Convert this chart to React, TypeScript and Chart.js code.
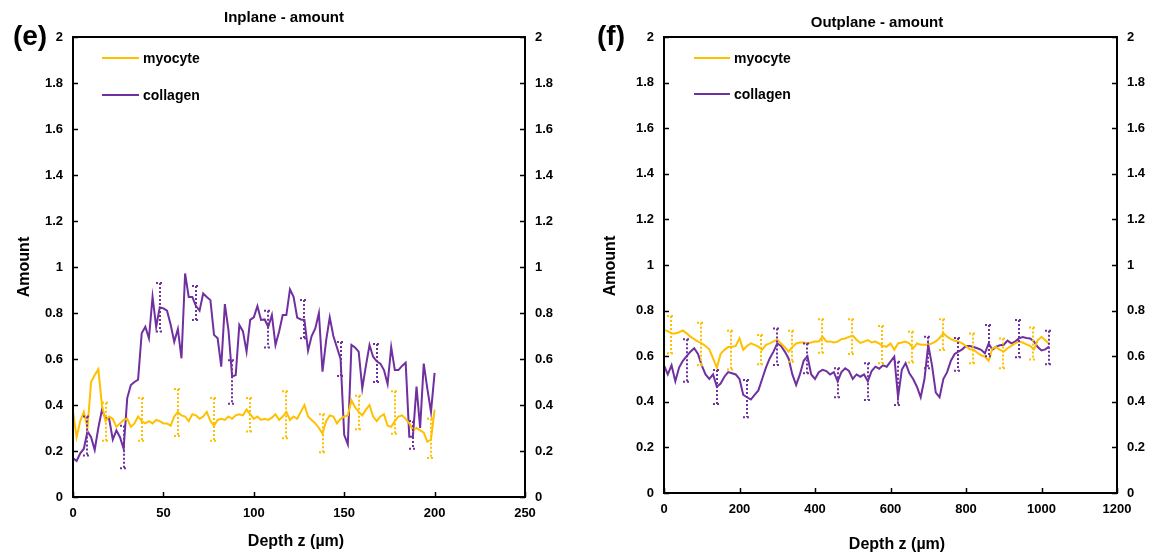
import React, { useEffect, useRef } from "react";
import { Chart, registerables } from "chart.js";

Chart.register(...registerables);

const MYO_COLOR = "#FFC000";
const COL_COLOR = "#7030A0";
const FONT = "'Liberation Sans', Arial, sans-serif";

// ---------- Panel (e): Inplane - amount ----------
const inDepth = [
  0, 2, 4, 6, 8, 10, 12, 14, 16, 18, 20, 22, 24, 26, 28, 30, 32, 34, 36, 38,
  40, 42, 44, 46, 48, 50, 52, 54, 56, 58, 60, 62, 64, 66, 68, 70, 72, 74, 76, 78,
  80, 82, 84, 86, 88, 90, 92, 94, 96, 98, 100, 102, 104, 106, 108, 110, 112, 114, 116, 118,
  120, 122, 124, 126, 128, 130, 132, 134, 136, 138, 140, 142, 144, 146, 148, 150, 152, 154, 156, 158,
  160, 162, 164, 166, 168, 170, 172, 174, 176, 178, 180, 182, 184, 186, 188, 190, 192, 194, 196, 198, 200,
];
const inMyocyte = [
  0.37, 0.26, 0.33, 0.37, 0.30, 0.50, 0.53, 0.555, 0.40, 0.33,
  0.35, 0.34, 0.305, 0.32, 0.335, 0.34, 0.305, 0.32, 0.35, 0.33,
  0.32, 0.33, 0.32, 0.335, 0.33, 0.32, 0.32, 0.31, 0.35, 0.37,
  0.355, 0.35, 0.33, 0.36, 0.355, 0.34, 0.35, 0.37, 0.33, 0.31,
  0.335, 0.34, 0.335, 0.35, 0.34, 0.355, 0.36, 0.355, 0.38, 0.36,
  0.34, 0.35, 0.335, 0.34, 0.335, 0.345, 0.36, 0.335, 0.35, 0.37,
  0.335, 0.35, 0.34, 0.37, 0.40, 0.35, 0.335, 0.32, 0.30, 0.275,
  0.33, 0.355, 0.35, 0.32, 0.34, 0.35, 0.355, 0.42, 0.39, 0.37,
  0.355, 0.38, 0.40, 0.35, 0.33, 0.35, 0.36, 0.31, 0.305, 0.33,
  0.35, 0.355, 0.34, 0.32, 0.29, 0.30, 0.29, 0.28, 0.24, 0.25,
  0.38,
];
const inCollagen = [
  0.168, 0.157, 0.19, 0.21, 0.285, 0.26, 0.205, 0.30, 0.378, 0.344,
  0.34, 0.25, 0.29, 0.26, 0.21, 0.43, 0.487, 0.50, 0.51, 0.712,
  0.74, 0.69, 0.87, 0.74, 0.825, 0.82, 0.81, 0.75, 0.675, 0.73,
  0.603, 0.972, 0.87, 0.87, 0.83, 0.81, 0.885, 0.87, 0.856, 0.705,
  0.69, 0.567, 0.839, 0.725, 0.524, 0.53, 0.748, 0.72, 0.632, 0.77,
  0.781, 0.83, 0.77, 0.772, 0.74, 0.791, 0.661, 0.72, 0.791, 0.791,
  0.903, 0.87, 0.78, 0.772, 0.77, 0.636, 0.70, 0.733, 0.80, 0.545,
  0.68, 0.781, 0.70, 0.65, 0.60, 0.27, 0.229, 0.661, 0.65, 0.632,
  0.473, 0.57, 0.661, 0.61, 0.59, 0.58, 0.552, 0.491, 0.652, 0.552,
  0.552, 0.57, 0.584, 0.262, 0.262, 0.48, 0.30, 0.58, 0.47, 0.37,
  0.54,
];
const inMyoErrX = [18, 38, 58, 78, 98, 118, 138, 158, 178, 198];
const inMyoErrHigh = [0.41, 0.43, 0.47, 0.43, 0.43, 0.46, 0.36, 0.44, 0.46, 0.34];
const inMyoErrLow = [0.245, 0.245, 0.265, 0.245, 0.285, 0.255, 0.195, 0.295, 0.275, 0.17];
const inColErrX = [8, 28, 48, 68, 88, 108, 128, 148, 168, 188];
const inColErrHigh = [0.35, 0.31, 0.93, 0.917, 0.595, 0.81, 0.857, 0.674, 0.665, 0.33];
const inColErrLow = [0.18, 0.125, 0.72, 0.77, 0.405, 0.65, 0.69, 0.526, 0.5, 0.21];

// ---------- Panel (f): Outplane - amount ----------
const outDepth = [
  0, 10, 20, 30, 40, 50, 60, 70, 80, 90, 100, 110, 120, 130, 140, 150, 160, 170, 180, 190,
  200, 210, 220, 230, 240, 250, 260, 270, 280, 290, 300, 310, 320, 330, 340, 350, 360, 370, 380, 390,
  400, 410, 420, 430, 440, 450, 460, 470, 480, 490, 500, 510, 520, 530, 540, 550, 560, 570, 580, 590,
  600, 610, 620, 630, 640, 650, 660, 670, 680, 690, 700, 710, 720, 730, 740, 750, 760, 770, 780, 790,
  800, 810, 820, 830, 840, 850, 860, 870, 880, 890, 900, 910, 920, 930, 940, 950, 960, 970, 980, 990,
  1000, 1010, 1020,
];
const outMyocyte = [
  0.715, 0.71, 0.70, 0.70, 0.705, 0.713, 0.70, 0.686, 0.675, 0.664,
  0.656, 0.645, 0.63, 0.59, 0.55, 0.61, 0.628, 0.64, 0.64, 0.645,
  0.678, 0.628, 0.645, 0.656, 0.65, 0.642, 0.628, 0.65, 0.656, 0.665,
  0.671, 0.656, 0.64, 0.62, 0.64, 0.656, 0.66, 0.66, 0.656, 0.66,
  0.664, 0.664, 0.686, 0.665, 0.665, 0.66, 0.664, 0.675, 0.678, 0.685,
  0.69, 0.672, 0.658, 0.664, 0.671, 0.66, 0.664, 0.655, 0.645, 0.642,
  0.656, 0.628, 0.656, 0.66, 0.664, 0.656, 0.634, 0.656, 0.65, 0.65,
  0.65, 0.656, 0.665, 0.68, 0.70, 0.686, 0.675, 0.668, 0.664, 0.656,
  0.645, 0.63, 0.628, 0.615, 0.604, 0.598, 0.58, 0.635, 0.64, 0.628,
  0.62, 0.635, 0.645, 0.656, 0.664, 0.66, 0.652, 0.645, 0.63, 0.67,
  0.685, 0.67, 0.655,
];
const outCollagen = [
  0.56, 0.52, 0.56, 0.49, 0.55, 0.58, 0.60, 0.62, 0.635, 0.61,
  0.56, 0.52, 0.50, 0.52, 0.466, 0.48, 0.51, 0.53, 0.525, 0.52,
  0.50, 0.43, 0.42, 0.41, 0.43, 0.45, 0.50, 0.55, 0.59, 0.62,
  0.656, 0.645, 0.62, 0.59, 0.52, 0.474, 0.52, 0.58, 0.60, 0.52,
  0.50, 0.53, 0.54, 0.535, 0.52, 0.53, 0.49, 0.53, 0.547, 0.535,
  0.50, 0.52, 0.51, 0.52, 0.49, 0.535, 0.554, 0.545, 0.56, 0.554,
  0.576, 0.598, 0.42, 0.54, 0.57, 0.525, 0.50, 0.466, 0.42, 0.50,
  0.65, 0.56, 0.44, 0.42, 0.50, 0.53, 0.58, 0.61, 0.62, 0.63,
  0.645, 0.645, 0.64, 0.635, 0.628, 0.613, 0.656, 0.628, 0.642, 0.648,
  0.65, 0.668, 0.656, 0.664, 0.678, 0.684, 0.68, 0.678, 0.665, 0.64,
  0.625, 0.63, 0.642,
];
const outMyoErrX = [18, 98, 178, 258, 338, 418, 498, 578, 658, 738, 818, 898, 978];
const outMyoErrHigh = [0.776, 0.747, 0.712, 0.693, 0.712, 0.762, 0.762, 0.732, 0.707, 0.762, 0.70, 0.678, 0.726];
const outMyoErrLow = [0.613, 0.56, 0.542, 0.565, 0.576, 0.615, 0.61, 0.569, 0.572, 0.627, 0.569, 0.547, 0.586];
const outColErrX = [60, 140, 220, 300, 380, 460, 540, 620, 700, 780, 860, 940, 1020];
const outColErrHigh = [0.674, 0.539, 0.496, 0.722, 0.656, 0.547, 0.569, 0.576, 0.685, 0.68, 0.737, 0.759, 0.712];
const outColErrLow = [0.488, 0.39, 0.332, 0.561, 0.525, 0.42, 0.408, 0.386, 0.547, 0.536, 0.6, 0.595, 0.565];

const seriesNames = ["myocyte", "collagen"];

type ErrSet = { xs: number[]; lows: number[]; highs: number[]; color: string };
type PanelCfg = {
  left: number;
  depth: number[];
  myo: number[];
  col: number[];
  errs: ErrSet[];
  xMax: number;
  xStep: number;
  area: { left: number; right: number; top: number; bottom: number };
  title: string;
  titleX: number;
  titleY: number;
  letter: string;
  letterX: number;
  letterY: number;
  xTitleX: number;
  xTitleY: number;
  yTitleX: number;
  yTitleY: number;
  legLineX1: number;
  legLineX2: number;
  legTextX: number;
  legY: number[];
};

const W = 576;
const H = 554;

const fmt = (v: number | string) => String(+Number(v).toFixed(1));

const decorPlugin = {
  id: "decor",
  afterDatasetsDraw(chart: any, _args: any, opts: any) {
    const cfg: PanelCfg = opts.cfg;
    const ctx = chart.ctx as CanvasRenderingContext2D;
    const xs = chart.scales.x;
    const ys = chart.scales.y;
    // error bars
    ctx.save();
    ctx.lineWidth = 2;
    ctx.setLineDash([2, 2]);
    for (const e of cfg.errs) {
      ctx.strokeStyle = e.color;
      for (let i = 0; i < e.xs.length; i++) {
        const px = Math.round(xs.getPixelForValue(e.xs[i]));
        const pHi = ys.getPixelForValue(e.highs[i]);
        const pLo = ys.getPixelForValue(e.lows[i]);
        ctx.beginPath();
        ctx.moveTo(px, pHi);
        ctx.lineTo(px, pLo);
        ctx.moveTo(px - 4, pHi);
        ctx.lineTo(px + 4, pHi);
        ctx.moveTo(px - 4, pLo);
        ctx.lineTo(px + 4, pLo);
        ctx.stroke();
      }
    }
    ctx.restore();
  },
  afterDraw(chart: any, _args: any, opts: any) {
    const cfg: PanelCfg = opts.cfg;
    const ctx = chart.ctx as CanvasRenderingContext2D;
    const a = chart.chartArea;
    const xs = chart.scales.x;
    const ys = chart.scales.y;
    ctx.save();
    // frame
    ctx.strokeStyle = "#000";
    ctx.lineWidth = 2;
    ctx.strokeRect(a.left, a.top, a.right - a.left, a.bottom - a.top);
    // inside tick marks
    ctx.lineWidth = 1.5;
    ctx.beginPath();
    for (const t of xs.ticks) {
      const px = Math.round(xs.getPixelForValue(t.value)) + 0.5;
      ctx.moveTo(px, a.bottom);
      ctx.lineTo(px, a.bottom - 5);
    }
    for (const t of ys.ticks) {
      const py = Math.round(ys.getPixelForValue(t.value)) + 0.5;
      ctx.moveTo(a.left, py);
      ctx.lineTo(a.left + 5, py);
      ctx.moveTo(a.right, py);
      ctx.lineTo(a.right - 5, py);
    }
    ctx.stroke();
    // texts
    ctx.fillStyle = "#000";
    ctx.textAlign = "center";
    ctx.textBaseline = "middle";
    ctx.font = `bold 15px ${FONT}`;
    ctx.fillText(cfg.title, cfg.titleX, cfg.titleY);
    ctx.font = `bold 28px ${FONT}`;
    ctx.fillText(cfg.letter, cfg.letterX, cfg.letterY);
    ctx.font = `bold 16px ${FONT}`;
    ctx.fillText("Depth z (µm)", cfg.xTitleX, cfg.xTitleY);
    ctx.save();
    ctx.translate(cfg.yTitleX, cfg.yTitleY);
    ctx.rotate(-Math.PI / 2);
    ctx.fillText("Amount", 0, 0);
    ctx.restore();
    // legend
    const colors = [MYO_COLOR, COL_COLOR];
    ctx.font = `bold 14px ${FONT}`;
    ctx.textAlign = "left";
    for (let i = 0; i < 2; i++) {
      ctx.strokeStyle = colors[i];
      ctx.lineWidth = 2;
      ctx.beginPath();
      ctx.moveTo(cfg.legLineX1, cfg.legY[i]);
      ctx.lineTo(cfg.legLineX2, cfg.legY[i]);
      ctx.stroke();
      ctx.fillText(seriesNames[i], cfg.legTextX, cfg.legY[i] + 1);
    }
    ctx.restore();
  },
};

function buildConfig(cfg: PanelCfg): any {
  const toPts = (ys: number[]) => cfg.depth.map((d, i) => ({ x: d, y: ys[i] }));
  const tickFont = { family: FONT, size: 13, weight: "bold" as const };
  const yTicks = { stepSize: 0.2, padding: 10, font: tickFont, color: "#000", callback: (v: any) => fmt(v) };
  return {
    type: "line",
    data: {
      datasets: [
        { label: seriesNames[0], data: toPts(cfg.myo), borderColor: MYO_COLOR, borderWidth: 2, pointRadius: 0, tension: 0, fill: false },
        { label: seriesNames[1], data: toPts(cfg.col), borderColor: COL_COLOR, borderWidth: 2, pointRadius: 0, tension: 0, fill: false },
      ],
    },
    options: {
      responsive: false,
      animation: false,
      devicePixelRatio: 1,
      layout: { padding: { top: cfg.area.top, left: 0, right: 0, bottom: 0 } },
      plugins: { legend: { display: false }, tooltip: { enabled: false }, title: { display: false }, decor: { cfg } },
      scales: {
        x: {
          type: "linear",
          position: "bottom",
          min: 0,
          max: cfg.xMax,
          grid: { display: false, drawTicks: false },
          border: { display: false },
          ticks: {
            stepSize: cfg.xStep,
            padding: 9,
            font: tickFont,
            color: "#000",
            maxRotation: 0,
            autoSkip: false,
            callback: (v: any) => String(Math.round(Number(v))),
          },
          afterFit: (s: any) => {
            s.height = H - cfg.area.bottom;
          },
        },
        y: {
          type: "linear",
          position: "left",
          min: 0,
          max: 2,
          grid: { display: false, drawTicks: false },
          border: { display: false },
          ticks: yTicks,
          afterFit: (s: any) => {
            s.width = cfg.area.left;
          },
        },
        y2: {
          type: "linear",
          position: "right",
          min: 0,
          max: 2,
          grid: { display: false, drawTicks: false },
          border: { display: false },
          ticks: { ...yTicks },
          afterFit: (s: any) => {
            s.width = W - cfg.area.right;
          },
        },
      },
    },
    plugins: [decorPlugin],
  };
}

const panels: PanelCfg[] = [
  {
    left: 0,
    depth: inDepth,
    myo: inMyocyte,
    col: inCollagen,
    errs: [
      { xs: inMyoErrX, lows: inMyoErrLow, highs: inMyoErrHigh, color: MYO_COLOR },
      { xs: inColErrX, lows: inColErrLow, highs: inColErrHigh, color: COL_COLOR },
    ],
    xMax: 250,
    xStep: 50,
    area: { left: 73, right: 525, top: 37, bottom: 497 },
    title: "Inplane - amount",
    titleX: 284,
    titleY: 18,
    letter: "(e)",
    letterX: 30,
    letterY: 37,
    xTitleX: 296,
    xTitleY: 542,
    yTitleX: 25,
    yTitleY: 267,
    legLineX1: 102,
    legLineX2: 139,
    legTextX: 143,
    legY: [58, 95],
  },
  {
    left: 576,
    depth: outDepth,
    myo: outMyocyte,
    col: outCollagen,
    errs: [
      { xs: outMyoErrX, lows: outMyoErrLow, highs: outMyoErrHigh, color: MYO_COLOR },
      { xs: outColErrX, lows: outColErrLow, highs: outColErrHigh, color: COL_COLOR },
    ],
    xMax: 1200,
    xStep: 200,
    area: { left: 88, right: 541, top: 37, bottom: 493 },
    title: "Outplane - amount",
    titleX: 301,
    titleY: 23,
    letter: "(f)",
    letterX: 35,
    letterY: 37,
    xTitleX: 321,
    xTitleY: 545,
    yTitleX: 35,
    yTitleY: 266,
    legLineX1: 118,
    legLineX2: 154,
    legTextX: 158,
    legY: [58, 94],
  },
];

function Panel({ cfg }: { cfg: PanelCfg }) {
  const ref = useRef<HTMLCanvasElement>(null);
  useEffect(() => {
    const chart = new Chart(ref.current as HTMLCanvasElement, buildConfig(cfg));
    return () => chart.destroy();
  }, [cfg]);
  return (
    <canvas
      ref={ref}
      width={W}
      height={H}
      style={{ position: "absolute", left: cfg.left, top: 0, width: W, height: H, display: "block" }}
    />
  );
}

export default function App() {
  return (
    <div style={{ position: "absolute", left: 0, top: 0, width: 1152, height: 554, background: "#fff", overflow: "hidden" }}>
      {panels.map((p, i) => (
        <Panel key={i} cfg={p} />
      ))}
    </div>
  );
}
